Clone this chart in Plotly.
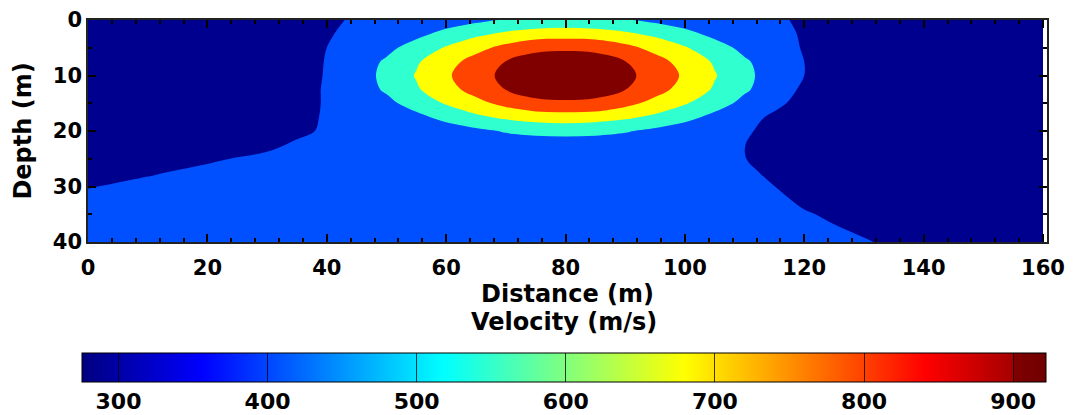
import plotly.graph_objects as go

distance = [0, 10, 20, 30, 35, 40, 45, 50, 55, 60, 65, 70, 75, 80, 85, 90, 95,
            100, 105, 110, 115, 120, 125, 130, 140, 150, 160]
depth = [0, 2.5, 5, 7.5, 10, 12.5, 15, 17.5, 20, 22.5, 25, 27.5, 30, 35, 40]

velocity = [
    [300, 300, 300, 300, 300, 340, 440, 460, 460, 460, 497, 535, 559, 568, 559, 535, 497, 460, 460, 460, 450, 350, 300, 300, 300, 300, 300],
    [300, 300, 300, 300, 300, 380, 460, 460, 492, 562, 624, 672, 703, 714, 703, 672, 624, 562, 492, 460, 460, 380, 300, 300, 300, 300, 300],
    [300, 300, 300, 300, 300, 400, 460, 492, 578, 660, 736, 812, 880, 886, 880, 812, 736, 660, 578, 492, 460, 390, 300, 300, 300, 300, 300],
    [300, 300, 300, 300, 310, 410, 460, 542, 636, 730, 821, 903, 935, 946, 935, 903, 821, 730, 636, 542, 460, 400, 300, 300, 300, 300, 300],
    [300, 300, 300, 300, 314, 414, 460, 560, 658, 756, 855, 927, 959, 970, 959, 927, 855, 756, 658, 560, 460, 400, 300, 300, 300, 300, 300],
    [300, 300, 300, 300, 320, 420, 460, 542, 636, 730, 821, 903, 935, 946, 935, 903, 821, 730, 636, 542, 460, 380, 300, 300, 300, 300, 300],
    [300, 300, 300, 300, 320, 420, 460, 492, 578, 660, 736, 812, 880, 886, 880, 812, 736, 660, 578, 492, 440, 340, 300, 300, 300, 300, 300],
    [300, 300, 300, 300, 326, 426, 460, 460, 492, 562, 624, 672, 703, 714, 703, 672, 624, 562, 492, 460, 370, 300, 300, 300, 300, 300, 300],
    [300, 300, 300, 300, 340, 440, 460, 460, 460, 460, 497, 535, 559, 568, 559, 535, 497, 460, 460, 430, 330, 300, 300, 300, 300, 300, 300],
    [300, 300, 300, 340, 440, 460, 460, 460, 460, 460, 460, 460, 460, 460, 460, 460, 460, 460, 460, 403, 300, 300, 300, 300, 300, 300, 300],
    [300, 300, 364, 460, 460, 460, 460, 460, 460, 460, 460, 460, 460, 460, 460, 460, 460, 460, 460, 406, 306, 300, 300, 300, 300, 300, 300],
    [300, 376, 460, 460, 460, 460, 460, 460, 460, 460, 460, 460, 460, 460, 460, 460, 460, 460, 460, 450, 350, 300, 300, 300, 300, 300, 300],
    [395, 460, 460, 460, 460, 460, 460, 460, 460, 460, 460, 460, 460, 460, 460, 460, 460, 460, 460, 460, 402, 300, 300, 300, 300, 300, 300],
    [460, 460, 460, 460, 460, 460, 460, 460, 460, 460, 460, 460, 460, 460, 460, 460, 460, 460, 460, 460, 460, 420, 366, 300, 300, 300, 300],
    [460, 460, 460, 460, 460, 460, 460, 460, 460, 460, 460, 460, 460, 460, 460, 460, 460, 460, 460, 460, 460, 460, 460, 419, 300, 300, 300],
]

contour_start = 400
contour_end = 900
contour_step = 125

cbar_min = 275.5
cbar_max = 922
cbar_ticks = [300, 400, 500, 600, 700, 800, 900]
x_ticks = [0, 20, 40, 60, 80, 100, 120, 140, 160]
y_ticks = [0, 10, 20, 30, 40]

# band colours (discrete filled contours)
navy = "#00008f"
blue = "#0050ff"
cyan = "#30ffd0"
yellow = "#ffff00"
orange = "#ff4400"
darkred = "#800000"
band_scale = [
    [0.0, navy], [0.2, navy], [0.2, blue], [0.4, blue], [0.4, cyan], [0.6, cyan],
    [0.6, yellow], [0.8, yellow], [0.8, orange], [0.95, orange], [0.95, darkred], [1.0, darkred],
]

jet_scale = [
    [0.0, "rgb(0,0,128)"], [0.125, "rgb(0,0,255)"], [0.375, "rgb(0,255,255)"],
    [0.625, "rgb(255,255,0)"], [0.875, "rgb(255,0,0)"], [0.966, "rgb(165,0,0)"],
    [0.966, "rgb(128,0,0)"], [1.0, "rgb(112,0,0)"],
]

BOLD = dict(family="DejaVu Sans", weight="bold", color="black")

fig = go.Figure()
fig.add_trace(go.Contour(
    x=distance, y=depth, z=velocity,
    contours=dict(start=contour_start, end=contour_end, size=contour_step, coloring="fill"),
    colorscale=band_scale, showscale=False,
    line=dict(width=0, smoothing=1.0),
    hoverinfo="skip",
))
fig.add_trace(go.Scatter(
    x=[None], y=[None], mode="markers", showlegend=False, hoverinfo="skip",
    marker=dict(
        color=[600], colorscale=jet_scale, cmin=cbar_min, cmax=cbar_max, showscale=True,
        colorbar=dict(
            orientation="h",
            x=0.4963, xanchor="center", y=-0.5, yanchor="top",
            len=964, lenmode="pixels", thickness=29, thicknessmode="pixels",
            xpad=0, ypad=0, outlinewidth=1, outlinecolor="black",
            tickvals=cbar_ticks, ticks="inside", ticklen=29, tickwidth=1,
            tickcolor="rgba(0,0,0,0.75)",
            tickfont=dict(size=22, **BOLD),
        ),
    ),
))

axis_common = dict(
    showline=True, linecolor="#222", linewidth=1.5, mirror="ticks",
    ticks="inside", ticklen=8, tickwidth=1.5, tickcolor="black",
    showgrid=False, zeroline=False,
    tickfont=dict(size=21, **BOLD),
)
fig.update_xaxes(
    range=[0, 160.67], tickvals=x_ticks, ticklabelstandoff=6,
    minor=dict(ticks="inside", ticklen=4, dtick=4, tickwidth=1.5, tickcolor="black", showgrid=False),
    title=dict(text="Distance (m)", font=dict(size=24, **BOLD), standoff=6),
    **axis_common,
)
fig.update_yaxes(
    range=[40, 0], tickvals=y_ticks,
    minor=dict(ticks="inside", ticklen=4, dtick=5, tickwidth=1.5, tickcolor="black", showgrid=False),
    title=dict(text="Depth (m)", font=dict(size=24, **BOLD), standoff=14),
    **axis_common,
)
fig.add_annotation(
    text="Velocity (m/s)", xref="paper", yref="paper", x=0.4964, y=-0.36,
    xanchor="center", yanchor="middle", showarrow=False,
    font=dict(size=24, **BOLD),
)
fig.update_layout(
    width=1073, height=415,
    margin=dict(l=88, r=26, t=20, b=173, autoexpand=False),
    paper_bgcolor="white", plot_bgcolor="white",
    showlegend=False,
)
fig.write_html("out.html")
